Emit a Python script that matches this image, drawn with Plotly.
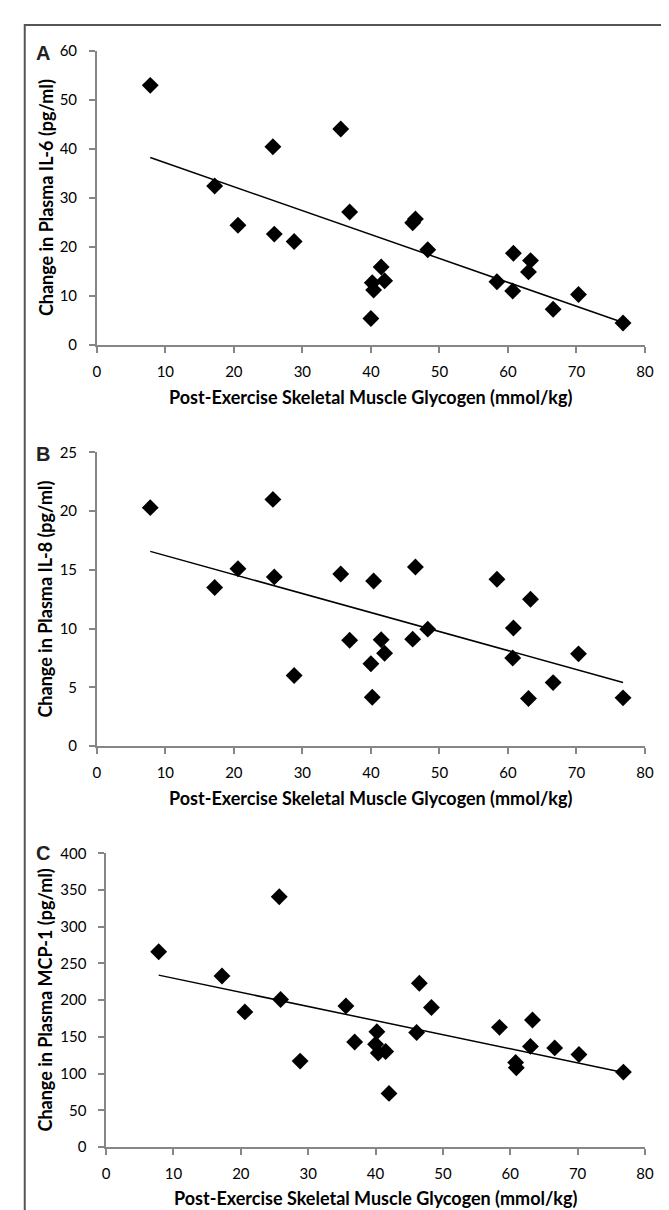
import numpy as np
import plotly.graph_objects as go

# Post-exercise skeletal muscle glycogen (mmol/kg), per panel
glycogen_a = [7.8, 17.2, 20.6, 25.7, 25.9, 28.8, 35.6, 36.9, 40.0, 40.2, 40.4, 41.5,
              42.0, 46.1, 46.5, 48.3, 58.4, 60.8, 60.7, 63.0, 63.3, 66.6, 70.3, 76.8]
il6 = [52.9, 32.4, 24.4, 40.4, 22.6, 21.1, 44.0, 27.1, 5.4, 12.7, 11.2, 15.9,
       13.1, 24.9, 25.7, 19.4, 12.9, 18.7, 11.0, 14.9, 17.2, 7.3, 10.3, 4.5]

glycogen_b = [7.8, 17.2, 20.6, 25.7, 25.9, 28.8, 35.6, 36.9, 40.0, 40.2, 40.4, 41.5,
              42.0, 46.1, 46.5, 48.3, 58.4, 60.8, 60.7, 63.0, 63.3, 66.6, 70.3, 76.8]
il8 = [20.3, 13.5, 15.1, 21.0, 14.4, 6.0, 14.65, 9.0, 7.0, 4.15, 14.05, 9.05,
       7.9, 9.1, 15.25, 9.95, 14.2, 10.05, 7.5, 4.05, 12.5, 5.4, 7.85, 4.1]

glycogen_c = [7.8, 17.2, 20.6, 25.7, 25.9, 28.8, 35.6, 36.9, 40.0, 40.2, 40.4, 41.5,
              42.0, 46.1, 46.5, 48.3, 58.4, 60.8, 60.9, 63.0, 63.3, 66.6, 70.2, 76.8]
mcp1 = [266, 233, 184, 341, 201, 117, 192, 143, 140, 157, 128, 130,
        73, 156, 223, 190, 163, 115, 108, 137, 173, 135, 126, 102]

x_ticks = [0, 10, 20, 30, 40, 50, 60, 70, 80]
x_title = "Post-Exercise Skeletal Muscle Glycogen (mmol/kg)"
panels = [
    ("A", glycogen_a, il6, "Change in Plasma IL-6 (pg/ml)", [0, 60], 10),
    ("B", glycogen_b, il8, "Change in Plasma IL-8 (pg/ml)", [0, 25], 5),
    ("C", glycogen_c, mcp1, "Change in Plasma MCP-1 (pg/ml)", [0, 400], 50),
]

W, H = 669, 1210
# pixel layout: (x_left, x_right, y_top, y_bottom)
boxes = [(86.5, 645.5, 33, 332), (86.5, 645.5, 441, 739), (96, 645.5, 848, 1146)]
xtitle_y = [385, 792, 1198]
ytitle_x = 34
letter_pos = [(32, 36), (32, 443), (32, 848)]

FONT = "Lato, Open Sans, sans-serif"
TICK_FONT = dict(family=FONT, size=15, color="#000000")
AX_COLOR = "#868686"

fig = go.Figure()
annotations = []
for i, (letter, xs, ys, ytitle, yrange, dy) in enumerate(panels):
    n = i + 1
    xa = "x" if n == 1 else f"x{n}"
    ya = "y" if n == 1 else f"y{n}"
    fig.add_trace(go.Scatter(
        x=xs, y=ys, mode="markers", xaxis=xa, yaxis=ya,
        marker=dict(symbol="diamond", size=13, color="#000000", line=dict(width=0)),
        showlegend=False, hoverinfo="x+y"))
    slope, intercept = np.polyfit(xs, ys, 1)
    xl = [min(xs), max(xs)]
    fig.add_trace(go.Scatter(
        x=xl, y=[slope * v + intercept for v in xl], mode="lines", xaxis=xa, yaxis=ya,
        line=dict(color="#000000", width=1.5), showlegend=False, hoverinfo="skip"))

    x0, x1, yt, yb = boxes[i]
    xdom = [x0 / W, x1 / W]
    ydom = [1 - yb / H, 1 - yt / H]
    axis_common = dict(showgrid=False, zeroline=False, showline=True, linecolor=AX_COLOR,
                       linewidth=1.5, ticks="outside", tickcolor=AX_COLOR, ticklen=6,
                       tickwidth=1.5, tickfont=TICK_FONT)
    fig.update_layout(**{
        ("xaxis" if n == 1 else f"xaxis{n}"): dict(
            domain=xdom, range=[0, 80], tickvals=x_ticks, anchor=ya,
            ticklabelstandoff=6, **axis_common),
        ("yaxis" if n == 1 else f"yaxis{n}"): dict(
            domain=ydom, range=yrange, dtick=dy, tick0=0, anchor=xa,
            ticklabelstandoff=9, **axis_common),
    })
    annotations.append(dict(
        text=f"<b>{x_title}</b>", xref="paper", yref="paper",
        x=(x0 + x1) / 2 / W, y=1 - xtitle_y[i] / H,
        xanchor="center", yanchor="middle", showarrow=False,
        font=dict(family=FONT, size=18, color="#000000")))
    annotations.append(dict(
        text=f"<b>{ytitle}</b>", xref="paper", yref="paper",
        x=ytitle_x / W, y=1 - (yt + yb) / 2 / H, textangle=-90,
        xanchor="center", yanchor="middle", showarrow=False,
        font=dict(family=FONT, size=18, color="#000000")))
    lx, ly = letter_pos[i]
    annotations.append(dict(
        text=f"<b>{letter}</b>", xref="paper", yref="paper",
        x=lx / W, y=1 - ly / H, xanchor="center", yanchor="middle", showarrow=False,
        font=dict(family="Liberation Sans, Arial, sans-serif", size=20, color="#222222")))

fig.update_layout(
    width=W, height=H, margin=dict(l=0, r=0, t=0, b=0),
    paper_bgcolor="#ffffff", plot_bgcolor="#ffffff",
    annotations=annotations,
    shapes=[dict(type="rect", xref="paper", yref="paper",
                 x0=13 / W, x1=666 / W, y0=-0.02, y1=1 - 7 / H,
                 line=dict(color="#555555", width=2), layer="above")],
)

fig.write_html("out.html")
